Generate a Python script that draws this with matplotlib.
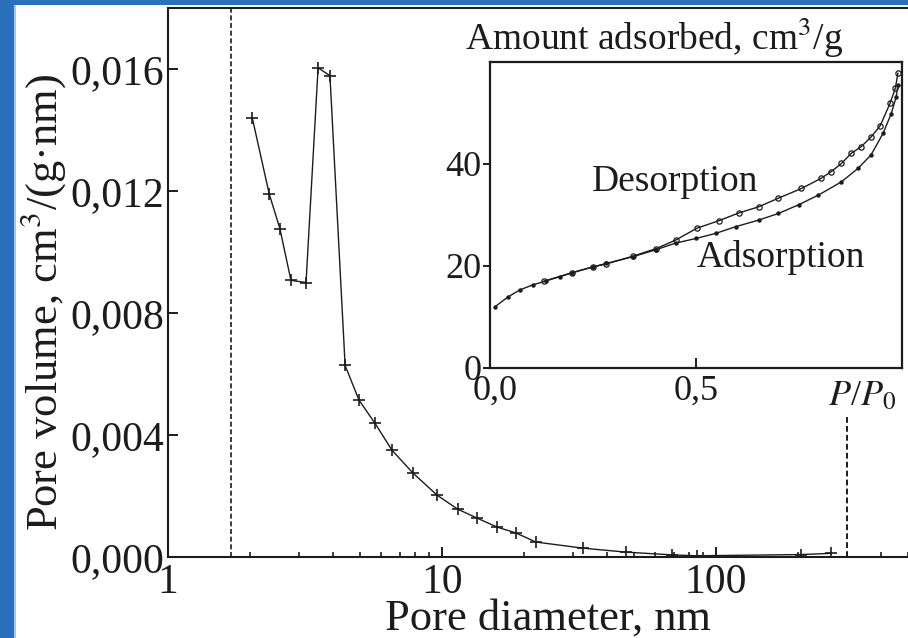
import matplotlib
matplotlib.use("Agg")
import matplotlib.pyplot as plt
from matplotlib.patches import Rectangle
from matplotlib.ticker import FixedLocator, FuncFormatter, LogLocator, NullFormatter
import matplotlib.transforms as mtransforms
import numpy as np

plt.rcParams["font.family"] = ["Liberation Serif", "DejaVu Serif"]
plt.rcParams["mathtext.fontset"] = "stix"

W, H = 908, 638
INK = "#1c1c1c"
BLUE = "#2a6fba"

# pore size distribution (main panel)
pore_d = [2.03, 2.34, 2.56, 2.81, 3.19, 3.53, 3.90, 4.43, 4.98, 5.69, 6.57,
          7.84, 9.59, 11.4, 13.4, 15.9, 18.6, 22.0, 32.7, 46.9, 69.0, 85.0,
          204.0, 263.0]
pore_v = [0.01440, 0.01191, 0.01077, 0.00907, 0.00900, 0.01604, 0.01578,
          0.00628, 0.00514, 0.00439, 0.00350, 0.00275, 0.00203, 0.00157,
          0.00128, 0.00098, 0.00079, 0.00049, 0.00029, 0.00016, 0.00007,
          0.00004, 0.00008, 0.00012]
y_ticks = [0.000, 0.004, 0.008, 0.012, 0.016]
x_ticks = [1, 10, 100]
x_ticklabels = ["1", "10", "100"]
d_min, d_max = 1.7, 300.0       # dashed limits of the BJH range

# isotherm (inset)
ads_p = [0.012, 0.043, 0.072, 0.104, 0.137, 0.169, 0.200, 0.249, 0.282, 0.346,
         0.403, 0.451, 0.500, 0.548, 0.596, 0.652, 0.700, 0.749, 0.797, 0.853,
         0.894, 0.925, 0.954, 0.974, 0.986, 0.990]
ads_v = [12.0, 13.9, 15.3, 16.3, 17.1, 17.9, 18.7, 19.8, 20.5, 21.8,
         23.2, 24.5, 25.4, 26.4, 27.7, 29.0, 30.3, 32.0, 33.9, 36.5,
         39.2, 41.8, 46.0, 49.9, 53.2, 55.5]
des_p = [0.990, 0.984, 0.971, 0.947, 0.925, 0.901, 0.877, 0.853, 0.828, 0.804,
         0.756, 0.700, 0.652, 0.604, 0.556, 0.502, 0.451, 0.403, 0.346, 0.282,
         0.249, 0.200, 0.130]
des_v = [57.8, 54.9, 51.9, 47.5, 45.3, 43.4, 42.1, 40.1, 38.5, 37.2,
         35.2, 33.3, 31.6, 30.4, 28.9, 27.4, 25.1, 23.4, 21.9, 20.4,
         19.8, 18.7, 17.0]
in_yticks = [0, 20, 40]
in_xticks = [0.0, 0.5]
in_xticklabels = ["0,0", "0,5"]


def box(l, t, r, b):
    """pixel box (left, top, right, bottom) -> figure fraction rect"""
    return [l / W, (H - b) / H, (r - l) / W, (b - t) / H]


fig = plt.figure(figsize=(W / 100, H / 100), dpi=100)

# ---- main panel ------------------------------------------------------------
x_right = 168 + 274 * np.log10(520)
ax = fig.add_axes(box(168, 8, x_right, 557))
ax.set_xscale("log")
ax.set_xlim(1, 520)
ax.set_ylim(0, 0.018)
ax.spines["right"].set_visible(False)
for s in ("left", "bottom", "top"):
    ax.spines[s].set_linewidth(1.5)
    ax.spines[s].set_color(INK)

ax.plot(pore_d, pore_v, color=INK, lw=1.0, marker="+", ms=8, mew=1.2)
ax.axvline(d_min, color=INK, lw=1.2, ls=(0, (3, 1.6)))
ax.plot([d_max, d_max], [0, 0.00465], color=INK, lw=1.4, ls=(0, (3, 1.6)))

ax.yaxis.set_major_locator(FixedLocator(y_ticks))
ax.yaxis.set_major_formatter(FuncFormatter(lambda v, _: f"{v:.3f}".replace(".", ",")))
ax.xaxis.set_major_locator(FixedLocator(x_ticks))
ax.set_xticklabels(x_ticklabels)
ax.xaxis.set_minor_locator(LogLocator(base=10, subs=np.arange(2, 10)))
ax.xaxis.set_minor_formatter(NullFormatter())
ax.tick_params(which="major", direction="in", length=7, width=1.4, colors=INK,
               labelsize=30, pad=3, top=False, right=False)
ax.tick_params(which="minor", direction="in", length=3.5, width=1.2, colors=INK,
               top=False, right=False)
ax.tick_params(axis="x", which="major", pad=5)

fig.text(43 / W, 1 - 302 / H, "Pore volume, cm$^3$/(g·nm)", rotation=90,
         ha="center", va="center", fontsize=32, color=INK)
fig.text(548 / W, 1 - 619 / H, "Pore diameter, nm", ha="center", va="center",
         fontsize=32, color=INK)

# ---- inset: isotherm -------------------------------------------------------
ai = fig.add_axes(box(490, 62, 902, 368))
ai.set_xlim(0, 1.0)
ai.set_ylim(0, 60)
for s in ai.spines.values():
    s.set_linewidth(1.6)
    s.set_color(INK)
ai.plot(ads_p, ads_v, color=INK, lw=1.0, marker="o", ms=2.2)
ai.plot(des_p, des_v, color=INK, lw=1.0, marker="o", ms=3.8, mfc="none", mew=0.9)

ai.set_yticks(in_yticks)
ai.set_xticks(in_xticks)
ai.set_xticklabels(in_xticklabels)
ai.tick_params(axis="y", direction="out", length=5, width=1.4, labelsize=26,
               pad=1, colors=INK)
ai.tick_params(axis="x", direction="in", length=7, width=1.4, labelsize=26,
               pad=5, colors=INK)
# the first inset x label sits a little right of its tick in the original
shift = mtransforms.ScaledTranslation(5 / 100, 0, fig.dpi_scale_trans)
first = ai.get_xticklabels()[0]
first.set_transform(first.get_transform() + shift)

ai.text(0.905, -0.095, "$P$/$P$$_0$", transform=ai.transAxes, ha="center",
        va="center", fontsize=26, color=INK)
ai.text(0.449, 36.5, "Desorption", ha="center", va="center", fontsize=27, color=INK)
ai.text(0.705, 21.6, "Adsorption", ha="center", va="center", fontsize=27, color=INK)
fig.text(654 / W, 1 - 38 / H, "Amount adsorbed, cm$^3$/g", ha="center",
         va="center", fontsize=27, color=INK)

# ---- slide frame (blue strip left and top) ---------------------------------
fig.add_artist(Rectangle((0, 0), 14 / W, 1, transform=fig.transFigure,
                         color=BLUE, lw=0, zorder=5))
fig.add_artist(Rectangle((0, 1 - 5 / H), 1, 5 / H, transform=fig.transFigure,
                         color=BLUE, lw=0, zorder=5))
fig.add_artist(Rectangle((14 / W, 0), 2 / W, 1 - 5 / H, transform=fig.transFigure,
                         color="#a9c6e6", lw=0, zorder=5))

fig.savefig("out.png", dpi=100)
